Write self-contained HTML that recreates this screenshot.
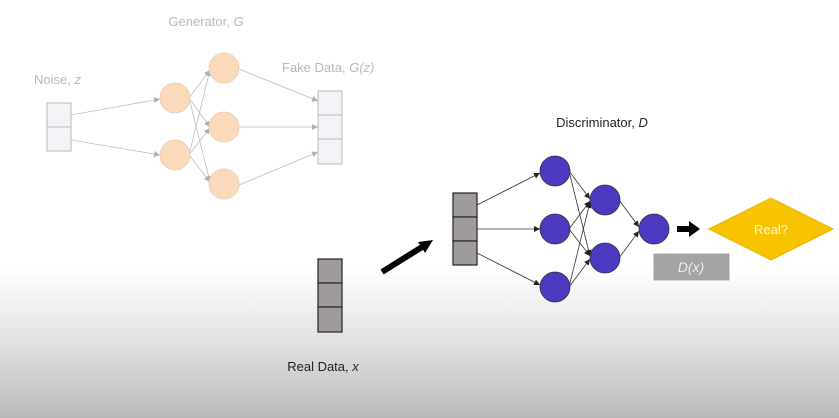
<!DOCTYPE html>
<html><head><meta charset="utf-8"><style>
html,body{margin:0;padding:0;width:839px;height:418px;overflow:hidden}
svg{display:block}
text{font-family:"Liberation Sans",sans-serif}
</style></head><body>
<svg width="839" height="418" viewBox="0 0 839 418" xmlns="http://www.w3.org/2000/svg">
<defs>
<linearGradient id="bg" x1="0" y1="0" x2="0" y2="1">
<stop offset="0" stop-color="#fff"/>
<stop offset="0.64" stop-color="#fff"/>
<stop offset="0.82" stop-color="#e2e2e2"/>
<stop offset="1" stop-color="#b9b9b9"/>
</linearGradient>
<marker id="ag" markerWidth="6" markerHeight="6" refX="6" refY="3" orient="auto" markerUnits="userSpaceOnUse"><path d="M0,0L6,3L0,6z" fill="#b0b0b0"/></marker>
<marker id="ad" markerWidth="6" markerHeight="6" refX="6" refY="3" orient="auto" markerUnits="userSpaceOnUse"><path d="M0,0L6,3L0,6z" fill="#222"/></marker>
</defs>
<rect width="839" height="418" fill="url(#bg)"/>

<!-- Generator -->
<text x="206" y="26" font-size="13" fill="#b8b8b8" text-anchor="middle">Generator, <tspan font-style="italic">G</tspan></text>
<text x="34" y="84" font-size="13" fill="#b8b8b8">Noise, <tspan font-style="italic">z</tspan></text>
<text x="282" y="72" font-size="13" fill="#b8b8b8">Fake Data, <tspan font-style="italic">G(z)</tspan></text>
<g stroke="#bdbdbd" stroke-width="0.8" fill="none" marker-end="url(#ag)">
<line x1="71" y1="115" x2="160" y2="99"/>
<line x1="71" y1="140" x2="160" y2="155"/>
<line x1="189" y1="98" x2="210" y2="70"/>
<line x1="189" y1="98" x2="210" y2="127"/>
<line x1="189" y1="98" x2="210" y2="182"/>
<line x1="189" y1="155" x2="210" y2="70"/>
<line x1="189" y1="155" x2="210" y2="128"/>
<line x1="189" y1="155" x2="210" y2="182"/>
<line x1="239" y1="69" x2="318" y2="101"/>
<line x1="239" y1="127" x2="318" y2="127"/>
<line x1="239" y1="185" x2="318" y2="152"/>
</g>
<g fill="#fad9bd" stroke="#e9cdb4" stroke-width="0.8">
<circle cx="175" cy="98" r="15"/><circle cx="175" cy="155" r="15"/>
<circle cx="224" cy="68" r="15"/><circle cx="224" cy="127" r="15"/><circle cx="224" cy="184" r="15"/>
</g>
<g fill="#f4f3f8" stroke="#b8b8b8" stroke-width="1">
<rect x="47" y="103" width="24" height="24"/><rect x="47" y="127" width="24" height="24"/>
<rect x="318" y="91" width="24" height="24"/><rect x="318" y="115" width="24" height="24"/><rect x="318" y="139" width="24" height="25"/>
</g>

<!-- Real data -->
<g fill="#a09b9b" stroke="#222" stroke-width="1.2">
<rect x="318" y="259" width="24" height="24"/><rect x="318" y="283" width="24" height="24"/><rect x="318" y="307" width="24" height="25"/>
</g>
<text x="323" y="371" font-size="13" fill="#222" text-anchor="middle">Real Data, <tspan font-style="italic">x</tspan></text>
<line x1="382" y1="272" x2="422" y2="247" stroke="#000" stroke-width="6"/>
<path d="M433,240 L418,242 L425,253 z" fill="#000"/>

<!-- Discriminator -->
<text x="602" y="127" font-size="13" fill="#222" text-anchor="middle">Discriminator, <tspan font-style="italic">D</tspan></text>
<g stroke="#333" stroke-width="0.8" fill="none" marker-end="url(#ad)">
<line x1="477" y1="205" x2="540" y2="173"/>
<line x1="477" y1="229" x2="540" y2="229"/>
<line x1="477" y1="253" x2="540" y2="285"/>
<line x1="569" y1="171" x2="590" y2="199"/>
<line x1="569" y1="171" x2="590" y2="256"/>
<line x1="569" y1="229" x2="590" y2="201"/>
<line x1="569" y1="229" x2="590" y2="256"/>
<line x1="569" y1="287" x2="590" y2="202"/>
<line x1="569" y1="287" x2="590" y2="259"/>
<line x1="619" y1="200" x2="639" y2="227"/>
<line x1="619" y1="258" x2="639" y2="231"/>
</g>
<g fill="#4b39c0" stroke="#333" stroke-width="0.8">
<circle cx="555" cy="171" r="15"/><circle cx="555" cy="229" r="15"/><circle cx="555" cy="287" r="15"/>
<circle cx="605" cy="200" r="15"/><circle cx="605" cy="258" r="15"/>
<circle cx="654" cy="229" r="15"/>
</g>
<g fill="#a09b9b" stroke="#222" stroke-width="1.2">
<rect x="453" y="193" width="24" height="24"/><rect x="453" y="217" width="24" height="24"/><rect x="453" y="241" width="24" height="24"/>
</g>
<rect x="677" y="226" width="14" height="6" fill="#000"/>
<path d="M689,221 L700,229 L689,237 z" fill="#000"/>
<path d="M709,229 L771,198 L833,229 L771,260 z" fill="#f8c300" stroke="#e8b600" stroke-width="1"/>
<text x="771" y="234" font-size="13" fill="#fff8d0" text-anchor="middle">Real?</text>
<rect x="654" y="254" width="75" height="26" fill="#a6a3a3" stroke="#999" stroke-width="0.8"/>
<text x="691" y="272" font-size="14" fill="#eee" text-anchor="middle" font-family="Liberation Serif,serif" font-style="italic">D(x)</text>
</svg>
</body></html>
